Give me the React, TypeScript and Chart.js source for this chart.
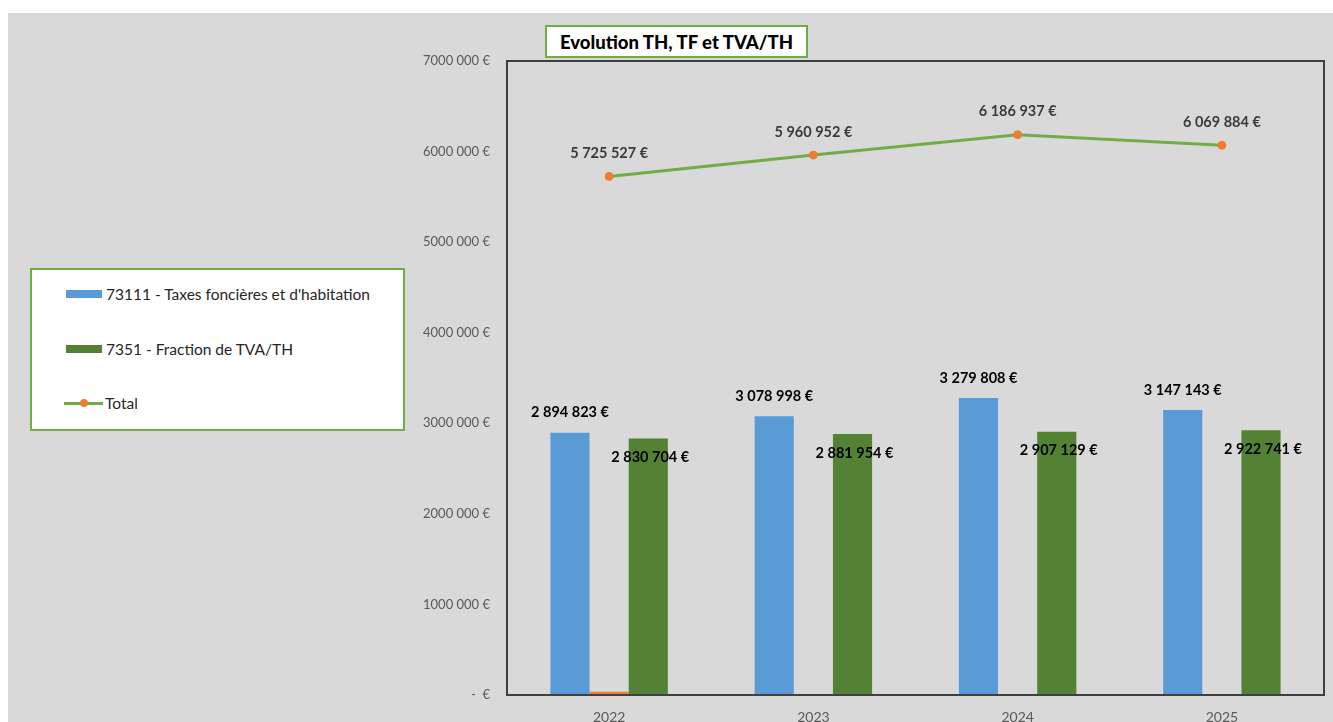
import React, { useEffect, useRef } from "react";
import { Chart, registerables } from "chart.js";

Chart.register(...registerables);

const years = ["2022", "2023", "2024", "2025"];
const taxesFoncieres = [2894823, 3078998, 3279808, 3147143];
const autre = [35000, 0, 0, 0];
const fractionTVA = [2830704, 2881954, 2907129, 2922741];
const total = [5725527, 5960952, 6186937, 6069884];
const yTicks = [0, 1000000, 2000000, 3000000, 4000000, 5000000, 6000000, 7000000];

const FONT = "Lato, 'Open Sans', sans-serif";
const BLUE = "#5b9bd5";
const ORANGE = "#ed7d31";
const DKGREEN = "#548235";
const LTGREEN = "#70ad47";

const fmtEuro = (v: number) =>
  Math.round(v).toString().replace(/\B(?=(\d{3})+(?!\d))/g, " ") + " €";

const fmtTick = (v: number) => (v === 0 ? "-  €" : `${Math.round(v / 1000)} 000 €`);

const frame = {
  id: "frame",
  afterDatasetsDraw(chart: any) {
    const { ctx, chartArea } = chart;
    ctx.save();
    ctx.strokeStyle = "#404040";
    ctx.lineWidth = 2;
    ctx.strokeRect(chartArea.left, chartArea.top, chartArea.right - chartArea.left, chartArea.bottom - chartArea.top);
    ctx.restore();
  },
};

const labels = {
  id: "valueLabels",
  afterDatasetsDraw(chart: any) {
    const { ctx } = chart;
    ctx.save();
    ctx.textAlign = "center";
    ctx.textBaseline = "middle";
    ctx.font = `bold 14.5px ${FONT}`;
    const m0 = chart.getDatasetMeta(0);
    const m2 = chart.getDatasetMeta(2);
    const m3 = chart.getDatasetMeta(3);
    ctx.fillStyle = "#000";
    m0.data.forEach((el: any, i: number) => ctx.fillText(fmtEuro(taxesFoncieres[i]), el.x, el.y - 20));
    m2.data.forEach((el: any, i: number) => ctx.fillText(fmtEuro(fractionTVA[i]), el.x + 2, el.y + 19));
    ctx.fillStyle = "#3a3a3a";
    m3.data.forEach((el: any, i: number) => ctx.fillText(fmtEuro(total[i]), el.x, el.y - 23));
    ctx.restore();
  },
};

export default function App() {
  const ref = useRef<HTMLCanvasElement>(null);

  useEffect(() => {
    if (!ref.current) return;
    const chart = new Chart(ref.current, {
      type: "bar",
      data: {
        labels: years,
        datasets: [
          { type: "bar", label: "73111 - Taxes foncières et d'habitation", data: taxesFoncieres, backgroundColor: BLUE, order: 2 },
          { type: "bar", label: "Autre", data: autre, backgroundColor: ORANGE, order: 2 },
          { type: "bar", label: "7351 - Fraction de TVA/TH", data: fractionTVA, backgroundColor: DKGREEN, order: 2 },
          {
            type: "line",
            label: "Total",
            data: total,
            borderColor: LTGREEN,
            borderWidth: 3,
            pointBackgroundColor: ORANGE,
            pointBorderColor: ORANGE,
            pointRadius: 4,
            pointBorderWidth: 1,
            tension: 0,
            order: 1,
          },
        ] as any,
      },
      options: {
        animation: false,
        responsive: true,
        maintainAspectRatio: false,
        datasets: { bar: { categoryPercentage: 0.575, barPercentage: 1 } } as any,
        layout: { padding: { top: 48, right: 9, left: 0, bottom: 0 } },
        plugins: { legend: { display: false }, title: { display: false }, tooltip: { enabled: false } },
        scales: {
          x: {
            grid: { display: false, drawTicks: false },
            border: { display: false },
            ticks: { color: "#595959", font: { family: FONT, size: 14 }, padding: 14 },
            afterFit: (s: any) => { s.height = 27; },
          },
          y: {
            min: 0,
            max: 7000000,
            grid: { display: false, drawTicks: false },
            border: { display: false },
            afterBuildTicks: (s: any) => { s.ticks = yTicks.map((v) => ({ value: v })); },
            ticks: {
              color: "#595959",
              font: { family: FONT, size: 13 },
              padding: 17,
              callback: (v: any) => fmtTick(Number(v)),
            },
            afterFit: (s: any) => { s.width = 499; },
          },
        },
      },
      plugins: [frame, labels],
    });
    return () => chart.destroy();
  }, []);

  const itemText: React.CSSProperties = { fontFamily: FONT, fontSize: 15.5, color: "#262626", marginLeft: 4 };

  return (
    <div style={{ position: "absolute", left: 8, top: 13, width: 1325, height: 709, background: "#d9d9d9", overflow: "hidden" }}>
      <div style={{ position: "absolute", inset: 0 }}>
        <canvas ref={ref} />
      </div>
      <div
        style={{
          position: "absolute", left: 537, top: 12, width: 263, height: 33, boxSizing: "border-box",
          background: "#fff", border: `2px solid ${LTGREEN}`, fontFamily: FONT, fontWeight: 900,
          fontSize: 18.5, color: "#000", display: "flex", alignItems: "center", justifyContent: "center",
        }}
      >
        Evolution TH, TF et TVA/TH
      </div>
      <div
        style={{
          position: "absolute", left: 22, top: 255, width: 375, height: 163, boxSizing: "border-box",
          background: "#fff", border: `2px solid ${LTGREEN}`,
        }}
      >
        <div style={{ position: "absolute", left: 34, top: 15, display: "flex", alignItems: "center" }}>
          <span style={{ display: "inline-block", width: 36, height: 8, background: BLUE }} />
          <span style={itemText}>73111 - Taxes foncières et d'habitation</span>
        </div>
        <div style={{ position: "absolute", left: 34, top: 70, display: "flex", alignItems: "center" }}>
          <span style={{ display: "inline-block", width: 36, height: 8, background: DKGREEN }} />
          <span style={itemText}>7351 - Fraction de TVA/TH</span>
        </div>
        <div style={{ position: "absolute", left: 32, top: 124, display: "flex", alignItems: "center" }}>
          <span style={{ position: "relative", display: "inline-block", width: 39, height: 8 }}>
            <span style={{ position: "absolute", left: 0, top: 2.5, width: 39, height: 3, background: LTGREEN }} />
            <span style={{ position: "absolute", left: 16, top: 0, width: 8, height: 8, borderRadius: 4, background: ORANGE }} />
          </span>
          <span style={{ ...itemText, marginLeft: 2 }}>Total</span>
        </div>
      </div>
    </div>
  );
}
